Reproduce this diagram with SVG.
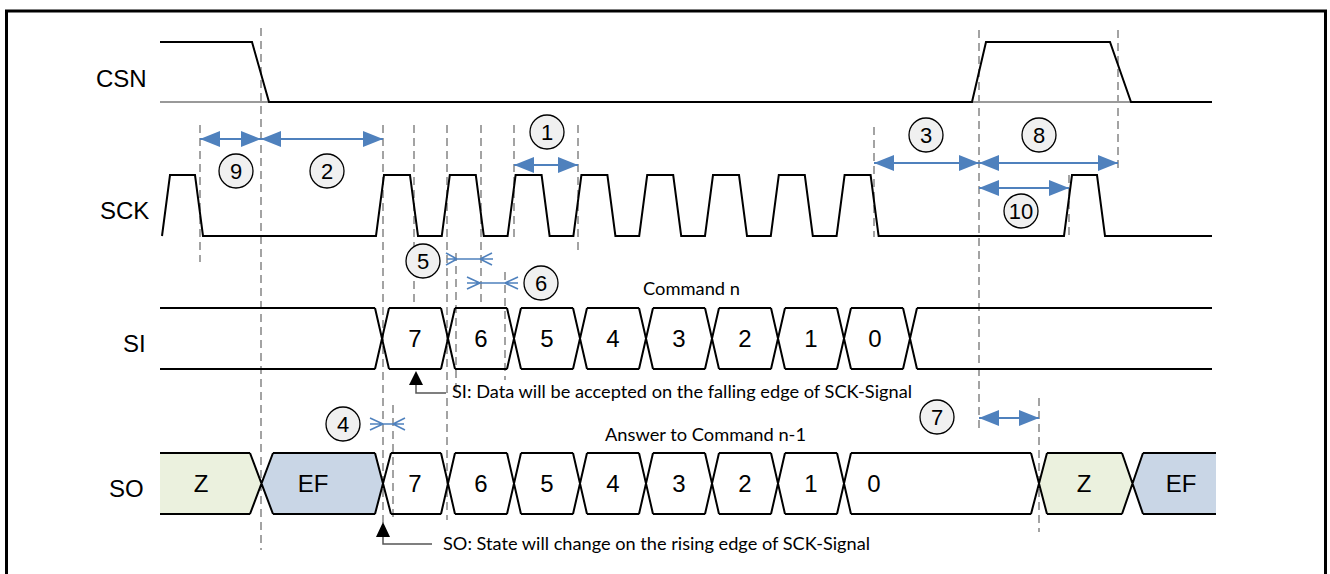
<svg xmlns="http://www.w3.org/2000/svg" width="1330" height="574" viewBox="0 0 1330 574">
<style>
.w{fill:none;stroke:#000;stroke-width:2;stroke-linejoin:miter}
.gb{fill:none;stroke:#999;stroke-width:2}
.d{fill:none;stroke:#858585;stroke-width:1.5;stroke-dasharray:8 5}
.bl{fill:none;stroke:#4F81BD;stroke-width:2}
.ch{fill:none;stroke:#4F81BD;stroke-width:1.6}
.c{fill:#f0f0f0;stroke:#000;stroke-width:1.3}
.sig{font-family:"Liberation Sans",Arial,sans-serif;font-size:24px;fill:#000}
.v{font-family:"Liberation Sans",Arial,sans-serif;font-size:24px;fill:#000;text-anchor:middle}
.n{font-family:"Liberation Sans",Arial,sans-serif;font-size:22px;fill:#000;text-anchor:middle}
.t{font-family:Lato,"Open Sans",sans-serif;font-size:17px;fill:#000}
.co{fill:none;stroke:#555;stroke-width:1.5}
</style>
<defs>
<marker id="ah" viewBox="0 0 20 16" refX="20" refY="8" markerWidth="20" markerHeight="16" markerUnits="userSpaceOnUse" orient="auto-start-reverse">
<path d="M0,0 L20,8 L0,16 z" fill="#4F81BD"/>
</marker>
</defs>
<rect x="6.5" y="11" width="1319" height="600" fill="none" stroke="#000" stroke-width="3"/>

<g id="labels">
<text class="sig" x="96" y="87">CSN</text>
<text class="sig" x="100" y="219">SCK</text>
<text class="sig" x="123" y="352">SI</text>
<text class="sig" x="109" y="497">SO</text>
</g>

<g id="guides">
<path class="d" d="M200,125V262 M261,28V550 M383,125V523 M393,405V520 M414,125V307 M447,125V520 M456,253V390 M481,125V302 M505,272V380 M514,125V240 M578,125V253 M874,127V237 M979,30V428 M1039,398V532 M1069,175V240 M1118,30V172"/>
</g>

<g id="csn">
<path class="gb" d="M160,102H269 M972,102H1131"/>
<path class="w" d="M160,42H252L269,102H972L986,42H1110L1131,102H1212"/>
</g>

<g id="sck">
<path class="w" d="M162,236L170,175H195L203,236H376L384,175H410L418,236H441.8L449.8,175H475.8L483.8,236H507.6L515.6,175H541.6L549.6,236H573.4L581.4,175H607.4L615.4,236H639.2L647.2,175H673.2L681.2,236H705L713,175H739L747,236H770.8L778.8,175H804.8L812.8,236H836.6L844.6,175H870.6L878.6,236H1064L1072,175H1097L1105,236H1212"/>
</g>

<g id="si">
<path class="w" d="M160,308H375 M160,369H375 M375,308L389,369 M375,369L389,308
M389,308H441 M389,369H441 M441,308L455,369 M441,369L455,308
M455,308H507 M455,369H507 M507,308L521,369 M507,369L521,308
M521,308H573 M521,369H573 M573,308L587,369 M573,369L587,308
M587,308H639 M587,369H639 M639,308L653,369 M639,369L653,308
M653,308H705 M653,369H705 M705,308L719,369 M705,369L719,308
M719,308H771 M719,369H771 M771,308L785,369 M771,369L785,308
M785,308H837 M785,369H837 M837,308L851,369 M837,369L851,308
M851,308H903 M851,369H903 M903,308L917,369 M903,369L917,308
M917,308H1212 M917,369H1212"/>
<text class="v" x="415" y="347">7</text>
<text class="v" x="481" y="347">6</text>
<text class="v" x="547" y="347">5</text>
<text class="v" x="613" y="347">4</text>
<text class="v" x="679" y="347">3</text>
<text class="v" x="745" y="347">2</text>
<text class="v" x="811" y="347">1</text>
<text class="v" x="875" y="347">0</text>
</g>

<g id="so">
<polygon points="160,453 250,453 261.5,483.5 250,514 160,514" fill="#EBF1DE"/>
<polygon points="261.5,483.5 273,453 375,453 383,483.5 375,514 273,514" fill="#C9D6E6"/>
<polygon points="1039,483.5 1047,453 1122,453 1132.5,483.5 1122,514 1047,514" fill="#EBF1DE"/>
<polygon points="1132.5,483.5 1143,453 1216,453 1216,514 1143,514" fill="#C9D6E6"/>
<path class="w" d="M160,453H250 M160,514H250 M250,453L273,514 M250,514L273,453
M273,453H375 M273,514H375 M375,453L391,514 M375,514L391,453
M391,453H441 M391,514H441 M441,453L455,514 M441,514L455,453
M455,453H507 M455,514H507 M507,453L521,514 M507,514L521,453
M521,453H573 M521,514H573 M573,453L587,514 M573,514L587,453
M587,453H639 M587,514H639 M639,453L653,514 M639,514L653,453
M653,453H705 M653,514H705 M705,453L719,514 M705,514L719,453
M719,453H771 M719,514H771 M771,453L785,514 M771,514L785,453
M785,453H837 M785,514H837 M837,453L851,514 M837,514L851,453
M851,453H1031 M851,514H1031 M1031,453L1047,514 M1031,514L1047,453
M1047,453H1122 M1047,514H1122 M1122,453L1143,514 M1122,514L1143,453
M1143,453H1216 M1143,514H1216"/>
<text class="v" x="201" y="492">Z</text>
<text class="v" x="313" y="492">EF</text>
<text class="v" x="415" y="492">7</text>
<text class="v" x="481" y="492">6</text>
<text class="v" x="547" y="492">5</text>
<text class="v" x="613" y="492">4</text>
<text class="v" x="679" y="492">3</text>
<text class="v" x="745" y="492">2</text>
<text class="v" x="811" y="492">1</text>
<text class="v" x="874" y="492">0</text>
<text class="v" x="1084" y="492">Z</text>
<text class="v" x="1181" y="492">EF</text>
</g>

<g id="dimensions">
<path class="bl" d="M200,139H261" marker-start="url(#ah)" marker-end="url(#ah)"/>
<path class="bl" d="M261,139H383" marker-start="url(#ah)" marker-end="url(#ah)"/>
<path class="bl" d="M514,165H578" marker-start="url(#ah)" marker-end="url(#ah)"/>
<path class="bl" d="M874,163H979" marker-start="url(#ah)" marker-end="url(#ah)"/>
<path class="bl" d="M979,163H1118" marker-start="url(#ah)" marker-end="url(#ah)"/>
<path class="bl" d="M979,188H1069" marker-start="url(#ah)" marker-end="url(#ah)"/>
<path class="bl" d="M979,418H1039" marker-start="url(#ah)" marker-end="url(#ah)"/>
<path class="ch" d="M447,259H493 M446,253L457,259L446,265 M492,253L480,259L492,265"/>
<path class="ch" d="M467,283H518 M467,277L480,283L467,289 M518,277L505,283L518,289"/>
<path class="ch" d="M370,424H404 M370,418L383,424L370,430 M405,418L393,424L405,430"/>
</g>

<g id="markers">
<circle class="c" cx="236" cy="171" r="17"/><text class="n" x="236" y="179">9</text>
<circle class="c" cx="327" cy="171" r="17"/><text class="n" x="327" y="179">2</text>
<circle class="c" cx="547" cy="132" r="17"/><text class="n" x="547" y="140">1</text>
<circle class="c" cx="926" cy="135" r="17"/><text class="n" x="926" y="143">3</text>
<circle class="c" cx="1039" cy="135" r="17"/><text class="n" x="1039" y="143">8</text>
<circle class="c" cx="1021" cy="211" r="17"/><text class="n" x="1021" y="219">10</text>
<circle class="c" cx="423" cy="261" r="17"/><text class="n" x="423" y="269">5</text>
<circle class="c" cx="541" cy="283" r="17"/><text class="n" x="541" y="291">6</text>
<circle class="c" cx="343" cy="424" r="17"/><text class="n" x="343" y="432">4</text>
<circle class="c" cx="937" cy="417" r="17"/><text class="n" x="937" y="425">7</text>
</g>

<g id="notes">
<text class="t" x="643" y="295" textLength="97" lengthAdjust="spacingAndGlyphs">Command n</text>
<text class="t" x="605" y="441" textLength="201" lengthAdjust="spacingAndGlyphs">Answer to Command n-1</text>
<polygon points="416,371 409,385 423,385" fill="#000"/>
<path class="co" d="M416,385V393H446"/>
<text class="t" x="452" y="398" textLength="460" lengthAdjust="spacingAndGlyphs">SI: Data will be accepted on the falling edge of SCK-Signal</text>
<polygon points="383,522 376,537 390,537" fill="#000"/>
<path class="co" d="M383,537V544H432"/>
<text class="t" x="443" y="550" textLength="427" lengthAdjust="spacingAndGlyphs">SO: State will change on the rising edge of SCK-Signal</text>
</g>
</svg>
